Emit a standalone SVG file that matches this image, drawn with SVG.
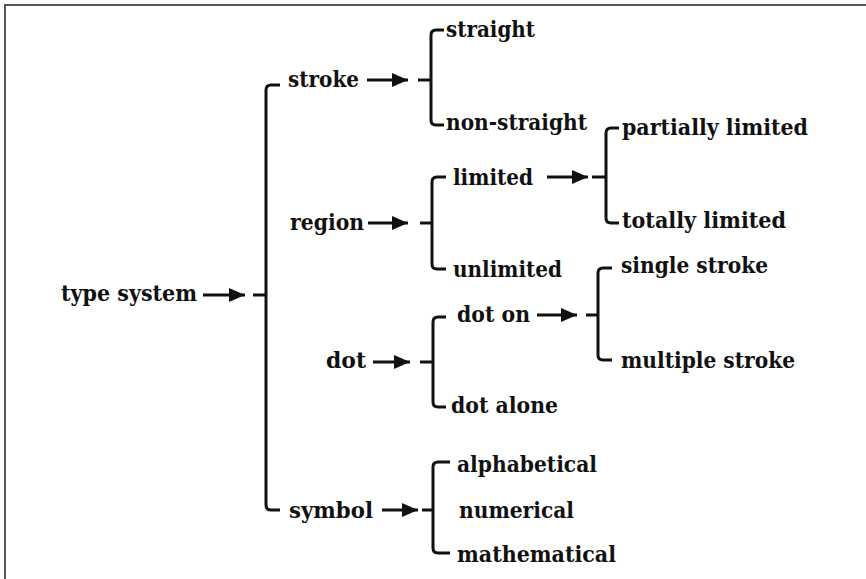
<svg xmlns="http://www.w3.org/2000/svg" width="866" height="579" viewBox="0 0 866 579">
  <style>
    .t { font-family: "DejaVu Serif", "Liberation Serif", serif; font-weight: bold; font-size: 22px; fill: #111; }
    .br { fill: none; stroke: #111; stroke-width: 3; stroke-linecap: butt; stroke-linejoin: round; }
    .ar { fill: none; stroke: #111; stroke-width: 2.8; marker-end: url(#head); }
    .frame { fill: none; stroke: #555; stroke-width: 2; }
  </style>
  <defs>
    <marker id="head" markerUnits="userSpaceOnUse" markerWidth="18" markerHeight="14" refX="16" refY="7" orient="auto">
      <path d="M0,0 L16,7 L0,14 Z" fill="#111"/>
    </marker>
  </defs>

  <rect width="866" height="579" fill="#fff"/>
  <!-- frame: top and left edges -->
  <path class="frame" d="M5,579 V5 H866"/>

  <!-- nodes -->
  <g id="type-system"><text class="t" x="61" y="301" textLength="136" lengthAdjust="spacingAndGlyphs">type system</text></g>
  <g id="stroke"><text class="t" x="288" y="87" textLength="71" lengthAdjust="spacingAndGlyphs">stroke</text></g>
  <g id="straight"><text class="t" x="446" y="37" textLength="89" lengthAdjust="spacingAndGlyphs">straight</text></g>
  <g id="non-straight"><text class="t" x="446" y="130" textLength="141" lengthAdjust="spacingAndGlyphs">non-straight</text></g>
  <g id="region"><text class="t" x="290" y="230" textLength="74" lengthAdjust="spacingAndGlyphs">region</text></g>
  <g id="limited"><text class="t" x="453" y="185" textLength="80" lengthAdjust="spacingAndGlyphs">limited</text></g>
  <g id="unlimited"><text class="t" x="453" y="277" textLength="109" lengthAdjust="spacingAndGlyphs">unlimited</text></g>
  <g id="partially-limited"><text class="t" x="622" y="135" textLength="186" lengthAdjust="spacingAndGlyphs">partially limited</text></g>
  <g id="totally-limited"><text class="t" x="622" y="228" textLength="164" lengthAdjust="spacingAndGlyphs">totally limited</text></g>
  <g id="dot"><text class="t" x="326" y="368" textLength="40" lengthAdjust="spacingAndGlyphs">dot</text></g>
  <g id="dot-on"><text class="t" x="457" y="322" textLength="73" lengthAdjust="spacingAndGlyphs">dot on</text></g>
  <g id="dot-alone"><text class="t" x="451" y="413" textLength="107" lengthAdjust="spacingAndGlyphs">dot alone</text></g>
  <g id="single-stroke"><text class="t" x="621" y="273" textLength="147" lengthAdjust="spacingAndGlyphs">single stroke</text></g>
  <g id="multiple-stroke"><text class="t" x="621" y="368" textLength="174" lengthAdjust="spacingAndGlyphs">multiple stroke</text></g>
  <g id="symbol"><text class="t" x="289" y="518" textLength="84" lengthAdjust="spacingAndGlyphs">symbol</text></g>
  <g id="alphabetical"><text class="t" x="457" y="472" textLength="140" lengthAdjust="spacingAndGlyphs">alphabetical</text></g>
  <g id="numerical"><text class="t" x="459" y="518" textLength="115" lengthAdjust="spacingAndGlyphs">numerical</text></g>
  <g id="mathematical"><text class="t" x="457" y="562" textLength="159" lengthAdjust="spacingAndGlyphs">mathematical</text></g>

  <!-- connectors: arrows and brackets -->
  <g id="connectors">
    <!-- arrows -->
    <line class="ar" x1="203" y1="295" x2="245" y2="295"/>
    <line class="ar" x1="367" y1="80" x2="408" y2="80"/>
    <line class="ar" x1="368" y1="223" x2="408" y2="223"/>
    <line class="ar" x1="373" y1="362" x2="410" y2="362"/>
    <line class="ar" x1="382" y1="510" x2="418" y2="510"/>
    <line class="ar" x1="547" y1="177" x2="588" y2="177"/>
    <line class="ar" x1="537" y1="315" x2="577" y2="315"/>

    <!-- root bracket -->
    <path class="br" d="M280,85 H271 Q266,85 266,90 V505 Q266,510 271,510 H280 M253,295 H266"/>
    <!-- stroke bracket -->
    <path class="br" d="M444,30 H436 Q431,30 431,35 V120 Q431,125 436,125 H444 M418,80 H431"/>
    <!-- region bracket -->
    <path class="br" d="M446,177 H437 Q432,177 432,182 V264 Q432,269 437,269 H446 M420,223 H432"/>
    <!-- limited bracket -->
    <path class="br" d="M619,128 H611 Q606,128 606,133 V218 Q606,223 611,223 H619 M592,177 H606"/>
    <!-- dot bracket -->
    <path class="br" d="M446,317 H438 Q433,317 433,322 V402 Q433,407 438,407 H446 M420,362 H433"/>
    <!-- dot on bracket -->
    <path class="br" d="M612,268 H603 Q598,268 598,273 V355 Q598,360 603,360 H612 M586,315 H598"/>
    <!-- symbol bracket -->
    <path class="br" d="M450,462 H438 Q433,462 433,467 V548 Q433,553 438,553 H450 M422,510 H433"/>
  </g>
</svg>
